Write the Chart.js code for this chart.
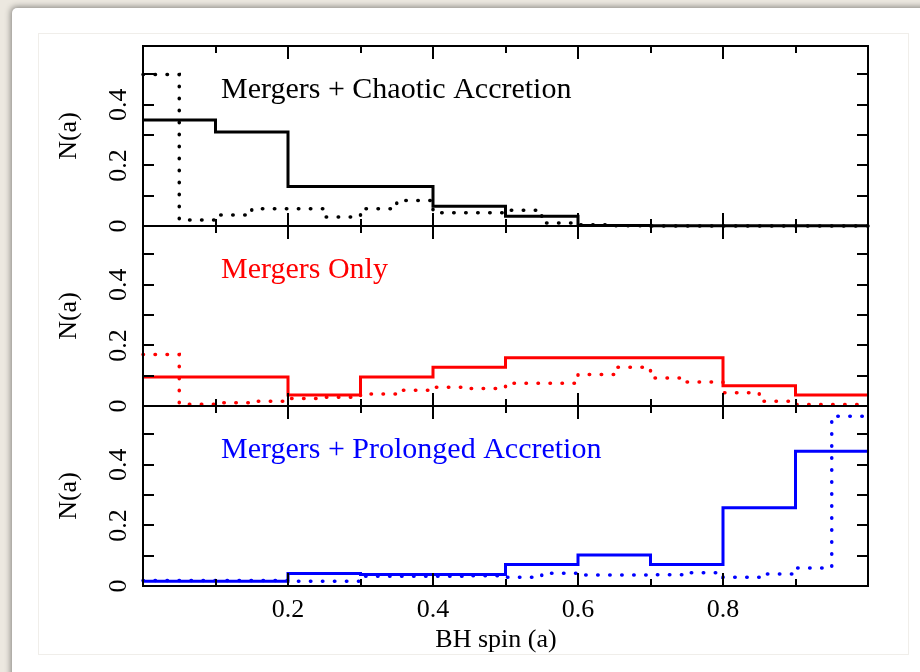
<!DOCTYPE html>
<html>
<head>
<meta charset="utf-8">
<script src="https://cdn.jsdelivr.net/npm/chart.js@4.4.1/dist/chart.umd.min.js"></script>
<style>
  html, body { margin: 0; padding: 0; }
  body { width: 920px; height: 672px; background: #ece8e0; position: relative; overflow: hidden; }
  .card { position: absolute; left: 12px; top: 8px; width: 940px; height: 700px; background: #fff;
          border-radius: 5px; box-shadow: -1px -1px 6px rgba(0,0,0,0.45); }
  .inner { position: absolute; left: 38px; top: 33px; width: 869px; height: 620px; border: 1px solid #f0eeea; }
  canvas { position: absolute; left: 0; top: 0; }
</style>
</head>
<body>
<div class="card"></div>
<div class="inner"></div>
<canvas id="p0" width="920" height="672"></canvas>
<canvas id="p1" width="920" height="672"></canvas>
<canvas id="p2" width="920" height="672"></canvas>
<script>
// bin edges (left side of each bin), the last bin closes at a = 1
const coarseEdges = [0, 0.1, 0.2, 0.3, 0.4, 0.5, 0.6, 0.7, 0.8, 0.9];
const fineEdges = [0, 0.05, 0.1, 0.15, 0.2, 0.25, 0.3, 0.35, 0.4, 0.45,
                   0.5, 0.55, 0.6, 0.65, 0.7, 0.75, 0.8, 0.85, 0.9, 0.95];

// Mergers + Chaotic Accretion
const chaoticSolid = [0.35, 0.31, 0.13, 0.13, 0.065, 0.032, 0.002, 0.001, 0.001, 0.001];
const chaoticDotted = [0.5, 0.02, 0.036, 0.057, 0.057, 0.03, 0.057, 0.084, 0.044, 0.044,
                       0.052, 0.01, 0.004, 0.001, 0, 0, 0, 0, 0, 0];
// Mergers Only
const mergersSolid = [0.096, 0.096, 0.036, 0.096, 0.128, 0.159, 0.159, 0.159, 0.067, 0.036];
const mergersDotted = [0.17, 0.006, 0.011, 0.016, 0.025, 0.029, 0.04, 0.052, 0.062, 0.058,
                       0.075, 0.075, 0.104, 0.128, 0.092, 0.079, 0.044, 0.016, 0.005, 0.005];
// Mergers + Prolonged Accretion
const prolongedSolid = [0.016, 0.016, 0.041, 0.038, 0.038, 0.071, 0.102, 0.071, 0.258, 0.445];
const prolongedDotted = [0.018, 0.018, 0.018, 0.018, 0.016, 0.016, 0.032, 0.032, 0.032, 0.034,
                         0.029, 0.042, 0.036, 0.036, 0.037, 0.044, 0.029, 0.04, 0.059, 0.56];

const panelTitles = ['Mergers + Chaotic Accretion', 'Mergers Only', 'Mergers + Prolonged Accretion'];
const panelColors = ['#000000', '#ff0000', '#0000ff'];

const xTicks = [0.1, 0.2, 0.3, 0.4, 0.5, 0.6, 0.7, 0.8, 0.9];
const xMajorTicks = [0.2, 0.4, 0.6, 0.8];
const xTickLabels = ['0.2', '0.4', '0.6', '0.8'];
const yTicks = [0.1, 0.2, 0.3, 0.4, 0.5];
const yTickValues = [0, 0.2, 0.4];
const yTickLabels = ['0', '0.2', '0.4'];
const yTitle = 'N(a)';
const xTitle = 'BH spin (a)';

const serif = '"Liberation Serif", "Times New Roman", serif';
const panelTops = [46, 226, 406];
const panelHeight = 180;

function histPoints(edges, vals) {
  const pts = edges.map((e, i) => ({ x: e, y: vals[i] }));
  pts.push({ x: 1, y: vals[vals.length - 1] });
  return pts;
}

const framePlugin = {
  id: 'frame',
  afterDatasetsDraw(chart, args, opts) {
    const { ctx, chartArea: a, scales: { x, y } } = chart;
    ctx.save();
    ctx.strokeStyle = '#000';
    ctx.lineWidth = 2;
    ctx.strokeRect(a.left, a.top, a.right - a.left, a.bottom - a.top);
    ctx.beginPath();
    xTicks.forEach(v => {
      const px = Math.round(x.getPixelForValue(v));
      const len = xMajorTicks.includes(v) ? 13 : 7;
      ctx.moveTo(px, a.top); ctx.lineTo(px, a.top + len);
      ctx.moveTo(px, a.bottom); ctx.lineTo(px, a.bottom - len);
    });
    yTicks.forEach(v => {
      const py = Math.round(y.getPixelForValue(v));
      ctx.moveTo(a.left, py); ctx.lineTo(a.left + 11, py);
      ctx.moveTo(a.right, py); ctx.lineTo(a.right - 11, py);
    });
    ctx.stroke();

    ctx.fillStyle = '#000';
    ctx.font = '26px ' + serif;
    ctx.textAlign = 'center';
    ctx.textBaseline = 'middle';
    yTickValues.forEach((v, i) => {
      ctx.save();
      ctx.translate(119, y.getPixelForValue(v));
      ctx.rotate(-Math.PI / 2);
      ctx.fillText(yTickLabels[i], 0, 0);
      ctx.restore();
    });
    ctx.save();
    ctx.translate(69, (a.top + a.bottom) / 2);
    ctx.rotate(-Math.PI / 2);
    ctx.fillText(yTitle, 0, 0);
    ctx.restore();

    if (opts.showX) {
      ctx.textBaseline = 'alphabetic';
      xMajorTicks.forEach((v, i) => {
        ctx.fillText(xTickLabels[i], x.getPixelForValue(v), a.bottom + 31);
      });
      ctx.fillText(xTitle, 496, a.bottom + 61);
    }

    ctx.fillStyle = opts.color;
    ctx.font = '30px ' + serif;
    ctx.textAlign = 'left';
    ctx.textBaseline = 'alphabetic';
    ctx.fillText(opts.title, 221, a.top + 52);
    ctx.restore();
  }
};

const panels = [
  [chaoticSolid, chaoticDotted],
  [mergersSolid, mergersDotted],
  [prolongedSolid, prolongedDotted]
];

panels.forEach(([solid, dotted], i) => {
  const color = panelColors[i];
  new Chart(document.getElementById('p' + i), {
    type: 'line',
    data: {
      datasets: [
        {
          data: histPoints(fineEdges, dotted),
          borderColor: color,
          borderWidth: 3.5,
          borderDash: [0.5, 11.5],
          borderCapStyle: 'round',
          stepped: 'before',
          pointRadius: 0,
          fill: false,
          clip: false
        },
        {
          data: histPoints(coarseEdges, solid),
          borderColor: color,
          borderWidth: 3,
          stepped: 'before',
          pointRadius: 0,
          fill: false,
          clip: false
        }
      ]
    },
    options: {
      responsive: false,
      devicePixelRatio: 1,
      animation: false,
      events: [],
      layout: {
        padding: { left: 143, right: 920 - 868, top: panelTops[i], bottom: 672 - panelTops[i] - panelHeight }
      },
      scales: {
        x: { type: 'linear', min: 0, max: 1, display: false },
        y: { type: 'linear', min: 0, max: 0.594, display: false }
      },
      plugins: {
        legend: { display: false },
        tooltip: { enabled: false },
        frame: { title: panelTitles[i], color: color, showX: i === 2 }
      }
    },
    plugins: [framePlugin]
  });
});
</script>
</body>
</html>
